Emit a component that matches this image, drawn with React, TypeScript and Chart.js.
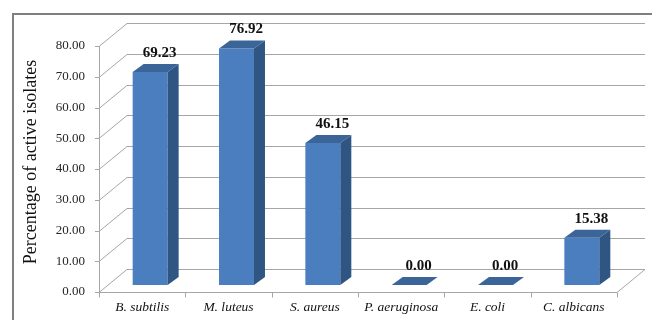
import React, { useEffect, useRef } from "react";
import { Chart, registerables } from "chart.js";

Chart.register(...registerables);

const categories = ["B. subtilis", "M. luteus", "S. aureus", "P. aeruginosa", "E. coli", "C. albicans"];
const percentages = [69.23, 76.92, 46.15, 0.0, 0.0, 15.38];
const yMin = 0;
const yMax = 80;
const yStep = 10;
const yTitle = "Percentage of active isolates";

const SERIF = '"Liberation Serif", "Times New Roman", serif';
const BAR_SHIFT = { x: 8, y: -7 };
const BAR_DEPTH = { x: 11, y: -8 };
const FLOOR_DEPTH = { x: 28, y: -23 };
const FRONT = "#4a7ebf";
const SIDE = "#2f5583";
const TOP = "#3b6598";
const GRID = "#a6a6a6";

const threeD = {
  id: "threeD",
  beforeDraw(chart: any) {
    const ctx = chart.ctx;
    ctx.save();
    ctx.fillStyle = "#ffffff";
    ctx.fillRect(0, 0, chart.width, chart.height);
    ctx.strokeStyle = "#7f7f7f";
    ctx.lineWidth = 2;
    ctx.beginPath();
    ctx.moveTo(13, chart.height + 5);
    ctx.lineTo(13, 14);
    ctx.lineTo(chart.width + 5, 14);
    ctx.stroke();
    ctx.restore();
  },
  beforeDatasetsDraw(chart: any) {
    const { ctx, chartArea, scales } = chart;
    const ys = scales.y;
    const xs = scales.x;
    const left = chartArea.left;
    const right = chartArea.right;
    ctx.save();
    ctx.strokeStyle = GRID;
    ctx.lineWidth = 1;
    ys.ticks.forEach((t: any) => {
      const yf = Math.round(ys.getPixelForValue(t.value)) + 0.5;
      const yb = yf + FLOOR_DEPTH.y;
      ctx.beginPath();
      ctx.moveTo(left, yf);
      ctx.lineTo(left + FLOOR_DEPTH.x, yb);
      ctx.lineTo(right + FLOOR_DEPTH.x, yb);
      ctx.stroke();
      ctx.beginPath();
      ctx.moveTo(left - 4, yf);
      ctx.lineTo(left, yf);
      ctx.stroke();
    });
    const yTop = Math.round(ys.getPixelForValue(yMax));
    const y0 = Math.round(ys.getPixelForValue(0)) + 0.5;
    ctx.beginPath();
    ctx.moveTo(left + 0.5, yTop);
    ctx.lineTo(left + 0.5, y0);
    ctx.lineTo(right, y0);
    ctx.lineTo(right + FLOOR_DEPTH.x, y0 + FLOOR_DEPTH.y);
    ctx.stroke();
    const n = categories.length;
    for (let k = 0; k <= n; k++) {
      const px = Math.round(left + ((right - left) * k) / n) + 0.5;
      ctx.beginPath();
      ctx.moveTo(px, y0);
      ctx.lineTo(px, y0 + 5);
      ctx.stroke();
    }
    ctx.restore();
    ctx.save();
    ctx.translate(BAR_SHIFT.x, BAR_SHIFT.y);
  },
  afterDatasetsDraw(chart: any) {
    const ctx = chart.ctx;
    ctx.restore();
    const meta = chart.getDatasetMeta(0);
    ctx.save();
    meta.data.forEach((el: any, i: number) => {
      const { x, y, base, width } = el.getProps(["x", "y", "base", "width"], true);
      const l = x - width / 2 + BAR_SHIFT.x;
      const r = x + width / 2 + BAR_SHIFT.x;
      const t = y + BAR_SHIFT.y;
      const b = base + BAR_SHIFT.y;
      ctx.fillStyle = SIDE;
      ctx.beginPath();
      ctx.moveTo(r, t);
      ctx.lineTo(r + BAR_DEPTH.x, t + BAR_DEPTH.y);
      ctx.lineTo(r + BAR_DEPTH.x, b + BAR_DEPTH.y);
      ctx.lineTo(r, b);
      ctx.closePath();
      ctx.fill();
      ctx.fillStyle = TOP;
      ctx.beginPath();
      ctx.moveTo(l, t);
      ctx.lineTo(r, t);
      ctx.lineTo(r + BAR_DEPTH.x, t + BAR_DEPTH.y);
      ctx.lineTo(l + BAR_DEPTH.x, t + BAR_DEPTH.y);
      ctx.closePath();
      ctx.fill();
      ctx.fillStyle = "#111111";
      ctx.font = "bold 15px " + SERIF;
      ctx.textAlign = "center";
      ctx.textBaseline = "middle";
      ctx.fillText(percentages[i].toFixed(2), x + 17.5, t - 19);
    });
    ctx.restore();
  },
  afterDraw(chart: any) {
    const ctx = chart.ctx;
    ctx.save();
    ctx.translate(31, 162);
    ctx.rotate(-Math.PI / 2);
    ctx.fillStyle = "#111111";
    ctx.font = "18px " + SERIF;
    ctx.textAlign = "center";
    ctx.textBaseline = "middle";
    ctx.fillText(yTitle, 0, 0);
    ctx.restore();
  },
};

export default function App() {
  const ref = useRef<HTMLCanvasElement | null>(null);
  useEffect(() => {
    document.body.style.margin = "0";
    const canvas = ref.current;
    if (!canvas) return;
    const chart = new Chart(canvas, {
      type: "bar",
      data: {
        labels: categories,
        datasets: [
          {
            data: percentages,
            backgroundColor: FRONT,
            borderWidth: 0,
            barPercentage: 0.405,
            categoryPercentage: 1,
          },
        ],
      },
      options: {
        animation: false,
        responsive: false,
        devicePixelRatio: 1,
        layout: { padding: { left: 0, top: 46, right: 35, bottom: 0 } },
        plugins: { legend: { display: false }, tooltip: { enabled: false } },
        scales: {
          x: {
            grid: { display: false, drawTicks: false },
            border: { display: false },
            ticks: {
              color: "#111111",
              padding: 7,
              maxRotation: 0,
              autoSkip: false,
              font: { family: SERIF, size: 13.5, style: "italic" },
            },
            afterFit: (s: any) => {
              s.height = 28;
            },
          },
          y: {
            min: yMin,
            max: yMax,
            grid: { display: false, drawTicks: false },
            border: { display: false },
            ticks: {
              stepSize: yStep,
              color: "#262626",
              padding: 14,
              font: { family: SERIF, size: 13 },
              callback: (v: any) => Number(v).toFixed(2),
            },
            afterFit: (s: any) => {
              s.width = 99;
            },
          },
        },
      },
      plugins: [threeD],
    });
    return () => chart.destroy();
  }, []);
  return (
    <div style={{ position: "absolute", left: 0, top: 0, width: 652, height: 320 }}>
      <canvas ref={ref} width={652} height={320} />
    </div>
  );
}
